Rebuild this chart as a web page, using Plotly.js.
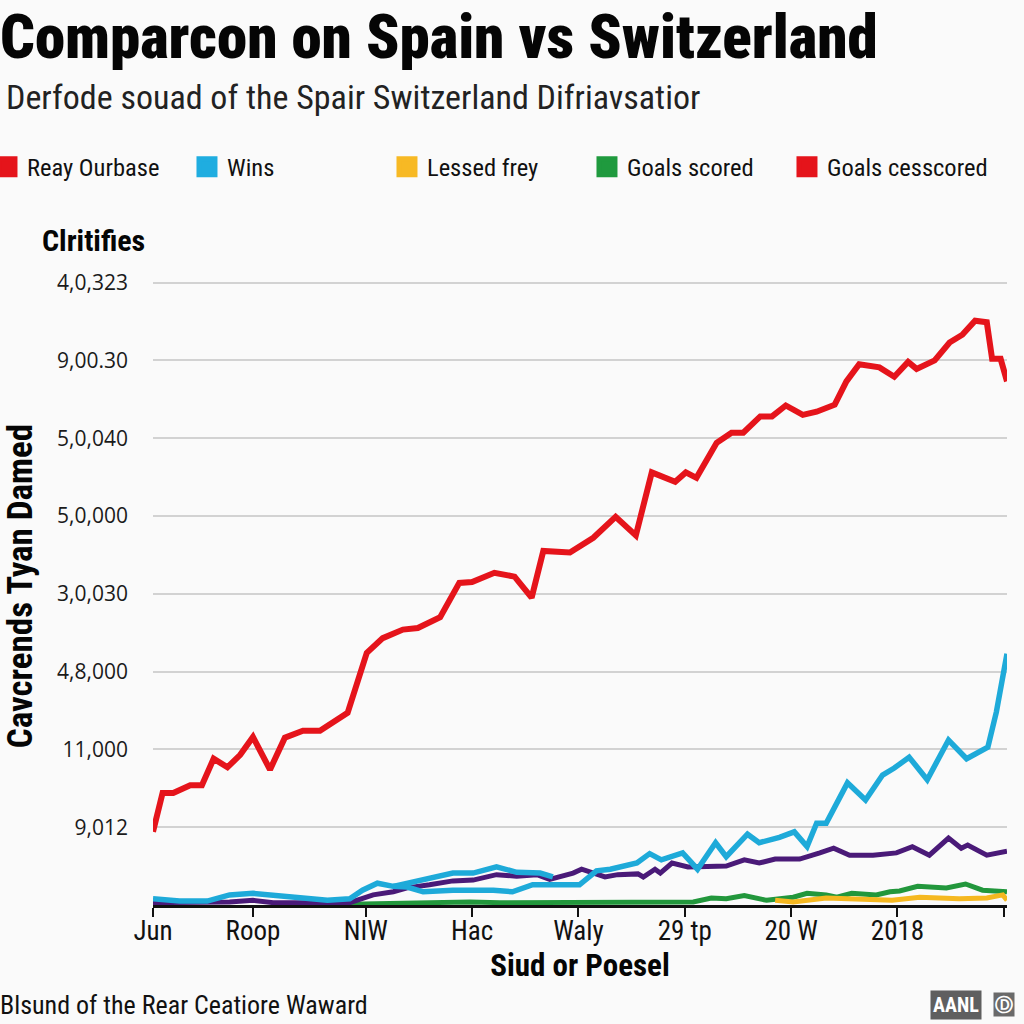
<!DOCTYPE html>
<html>
<head>
<meta charset="utf-8">
<script src="https://cdn.plot.ly/plotly-3.0.1.min.js"></script>
<style>
  html, body { margin: 0; padding: 0; background: #fafafa; }
  #chart { width: 1024px; height: 1024px; }
</style>
</head>
<body>
<div id="chart"></div>
<script>
// ---- Data (x in tick units, y in gridline units) ----
const xTickVals = [0, 0.94, 2, 3, 4, 5, 6, 7, 8];
const xTickText = ["Jun", "Roop", "NIW", "Hac", "Waly", "29 tp", "20 W", "2018", "29 k"];
const yTickVals = [1, 2, 3, 4, 5, 6, 7, 8];
const yTickText = ["9,012", "11,000", "4,8,000", "3,0,030", "5,0,000", "5,0,040", "9,00.30", "4,0,323"];

const redX = [0, 0.09, 0.19, 0.35, 0.46, 0.57, 0.70, 0.82, 0.94, 1.10, 1.24, 1.41, 1.57, 1.69, 1.83, 2.01, 2.16, 2.35, 2.49, 2.70, 2.88, 3.00, 3.21, 3.40, 3.56, 3.67, 3.92, 4.14, 4.35, 4.54, 4.69, 4.91, 5.01, 5.11, 5.30, 5.44, 5.55, 5.71, 5.82, 5.95, 6.11, 6.24, 6.41, 6.52, 6.64, 6.83, 6.97, 7.10, 7.18, 7.35, 7.49, 7.61, 7.73, 7.84, 7.89, 7.97, 8.03];
const redY = [0.94, 1.44, 1.44, 1.54, 1.54, 1.88, 1.77, 1.93, 2.16, 1.74, 2.15, 2.24, 2.24, 2.34, 2.47, 3.24, 3.43, 3.54, 3.56, 3.70, 4.14, 4.15, 4.27, 4.22, 3.95, 4.55, 4.53, 4.72, 4.99, 4.75, 5.56, 5.44, 5.56, 5.49, 5.94, 6.07, 6.07, 6.28, 6.28, 6.42, 6.30, 6.34, 6.43, 6.73, 6.95, 6.91, 6.79, 6.98, 6.89, 7.00, 7.23, 7.33, 7.51, 7.49, 7.02, 7.02, 6.73];

const cyanX = [0, 0.25, 0.51, 0.72, 0.94, 1.19, 1.38, 1.64, 1.85, 1.97, 2.11, 2.26, 2.39, 2.54, 2.82, 3.20, 3.38, 3.57, 3.83, 4.01, 4.17, 4.30, 4.55, 4.67, 4.78, 4.98, 5.12, 5.29, 5.39, 5.59, 5.70, 5.89, 6.03, 6.15, 6.24, 6.33, 6.53, 6.70, 6.86, 6.97, 7.11, 7.28, 7.48, 7.65, 7.85, 7.93, 8.03];
const cyanY = [0.08, 0.05, 0.05, 0.13, 0.15, 0.12, 0.08, 0.06, 0.08, 0.19, 0.28, 0.24, 0.23, 0.17, 0.19, 0.19, 0.17, 0.26, 0.26, 0.26, 0.44, 0.46, 0.54, 0.66, 0.58, 0.67, 0.46, 0.80, 0.62, 0.91, 0.80, 0.87, 0.94, 0.75, 1.05, 1.05, 1.57, 1.35, 1.67, 1.76, 1.90, 1.61, 2.12, 1.88, 2.03, 2.48, 3.23];

const cyanHumpX = [2.26, 2.51, 2.63, 2.82, 3.01, 3.23, 3.42, 3.64, 3.76];
const cyanHumpY = [0.24, 0.32, 0.36, 0.41, 0.41, 0.49, 0.42, 0.41, 0.36];

const purpleX = [0, 0.51, 0.72, 0.94, 1.13, 1.85, 2.07, 2.26, 2.39, 2.60, 2.82, 3.01, 3.23, 3.42, 3.61, 3.73, 3.89, 3.95, 4.03, 4.14, 4.25, 4.37, 4.56, 4.61, 4.72, 4.77, 4.88, 5.03, 5.17, 5.39, 5.56, 5.70, 5.85, 6.08, 6.27, 6.40, 6.55, 6.77, 6.99, 7.14, 7.30, 7.48, 7.60, 7.66, 7.84, 8.03];
const purpleY = [0.03, 0.03, 0.04, 0.06, 0.03, 0.03, 0.13, 0.17, 0.22, 0.26, 0.31, 0.32, 0.39, 0.37, 0.39, 0.33, 0.39, 0.41, 0.46, 0.41, 0.36, 0.39, 0.40, 0.36, 0.46, 0.41, 0.54, 0.49, 0.49, 0.50, 0.58, 0.54, 0.59, 0.59, 0.67, 0.73, 0.64, 0.64, 0.67, 0.75, 0.64, 0.86, 0.73, 0.77, 0.64, 0.69];

const greenX = [1.85, 2.51, 2.98, 3.26, 3.83, 4.45, 5.08, 5.25, 5.39, 5.56, 5.77, 6.02, 6.15, 6.33, 6.43, 6.57, 6.80, 6.93, 7.02, 7.19, 7.46, 7.64, 7.80, 8.03];
const greenY = [0.01, 0.03, 0.04, 0.03, 0.03, 0.04, 0.04, 0.09, 0.08, 0.12, 0.06, 0.10, 0.15, 0.13, 0.10, 0.15, 0.13, 0.17, 0.18, 0.24, 0.22, 0.27, 0.19, 0.17];

const yellowX = [5.85, 6.02, 6.33, 6.64, 6.95, 7.21, 7.58, 7.84, 7.99, 8.03];
const yellowY = [0.06, 0.04, 0.09, 0.08, 0.06, 0.10, 0.08, 0.09, 0.13, 0.06];

const legendNames = ["Reay Ourbase", "Wins", "Lessed frey", "Goals scored", "Goals cesscored"];
const legendColors = ["#e5141b", "#1fade0", "#f7b924", "#1f9a3e", "#e5141b"];

// ---- Styling ----
const NARROW = "Liberation Sans Narrow, Roboto Condensed, Arial Narrow, Liberation Sans, sans-serif";
const RED = "#e5141b", CYAN = "#1eaad9", PURPLE = "#4a1a78", GREEN = "#22973c", YELLOW = "#f5b820";

function line(x, y, color, w) {
  return { x: x, y: y, type: "scatter", mode: "lines", showlegend: false, hoverinfo: "skip",
           line: { color: color, width: w, shape: "linear" }, cliponaxis: false };
}

const traces = [
  line(greenX, greenY, GREEN, 5),
  line(yellowX, yellowY, YELLOW, 5),
  line(purpleX, purpleY, PURPLE, 5),
  line(cyanHumpX, cyanHumpY, CYAN, 5.5),
  line(cyanX, cyanY, CYAN, 5.5),
  line(redX, redY, RED, 6)
];

legendNames.forEach(function (n, i) {
  traces.push({ x: [null], y: [null], type: "scatter", mode: "markers", name: n,
    marker: { symbol: "square", size: 16, color: legendColors[i], line: { color: legendColors[i], width: 5 } } });
});

const layout = {
  width: 1024, height: 1024,
  paper_bgcolor: "#fafafa", plot_bgcolor: "#fafafa",
  margin: { l: 153, r: 17, t: 267, b: 119, autoexpand: false },
  title: {
    text: "Comparcon on Spain vs Switzerland",
    font: { family: NARROW, size: 61, weight: 900, color: "#050505" },
    x: 0.0, xref: "container", xanchor: "left",
    y: 0.964, yref: "container", yanchor: "middle"
  },
  xaxis: {
    automargin: false,
    range: [0, 8.03],
    tickmode: "array", tickvals: xTickVals, ticktext: xTickText,
    showgrid: false, zeroline: false,
    showline: true, linecolor: "#111", linewidth: 2.5,
    ticks: "outside", ticklen: 9, tickwidth: 2, tickcolor: "#111",
    ticklabelstandoff: -9,
    tickfont: { family: NARROW, size: 27, color: "#111" },
    title: { text: "Siud or Poesel", font: { family: NARROW, size: 31, weight: 700, color: "#050505" }, standoff: 8 }
  },
  yaxis: {
    automargin: false,
    range: [0, 8.2],
    tickmode: "array", tickvals: yTickVals, ticktext: yTickText,
    showgrid: true, gridcolor: "#d2d2d2", gridwidth: 2,
    zeroline: false, showline: false, ticks: "",
    ticklabelstandoff: 24,
    tickfont: { family: "Open Sans, DejaVu Sans, sans-serif", size: 21, color: "#1a1a1a" },
    title: { text: "Cavcrends Tyan Damed", font: { family: NARROW, size: 35, weight: 700, color: "#050505" }, standoff: 24 }
  },
  showlegend: true,
  legend: {
    orientation: "h", x: -0.1944, xanchor: "left", y: 1.157, yanchor: "middle",
    font: { family: NARROW, size: 24.5, color: "#111" },
    bgcolor: "rgba(0,0,0,0)", entrywidth: 155, entrywidthmode: "pixels",
    itemclick: false, itemdoubleclick: false
  },
  annotations: [
    { text: "Derfode souad of the Spair Switzerland Difriavsatior", xref: "paper", yref: "paper",
      x: -0.1745, y: 1.2665, xanchor: "left", yanchor: "middle", showarrow: false,
      font: { family: NARROW, size: 34, color: "#222" } },
    { text: "Clritifies", xref: "paper", yref: "paper",
      x: -0.1323, y: 1.0423, xanchor: "left", yanchor: "middle", showarrow: false,
      font: { family: NARROW, size: 30, weight: 700, color: "#050505" } },
    { text: "Blsund of the Rear Ceatiore Waward", xref: "paper", yref: "paper",
      x: -0.181, y: -0.1567, xanchor: "left", yanchor: "middle", showarrow: false,
      font: { family: NARROW, size: 26, color: "#111" } },
    { text: "<b>AANL</b>", xref: "paper", yref: "paper",
      x: 0.9098, y: -0.1567, xanchor: "left", yanchor: "middle", showarrow: false,
      bgcolor: "#5f5f5f", borderpad: 2,
      font: { family: NARROW, size: 20, color: "#ffffff" } },
    { text: "<b>Ⓓ</b>", xref: "paper", yref: "paper",
      x: 0.984, y: -0.1567, xanchor: "left", yanchor: "middle", showarrow: false,
      bgcolor: "#6a6a6a", borderpad: 1,
      font: { family: "DejaVu Sans, sans-serif", size: 18, color: "#ffffff" } }
  ]
};

Plotly.newPlot("chart", traces, layout, { staticPlot: true, displayModeBar: false });
</script>
</body>
</html>
